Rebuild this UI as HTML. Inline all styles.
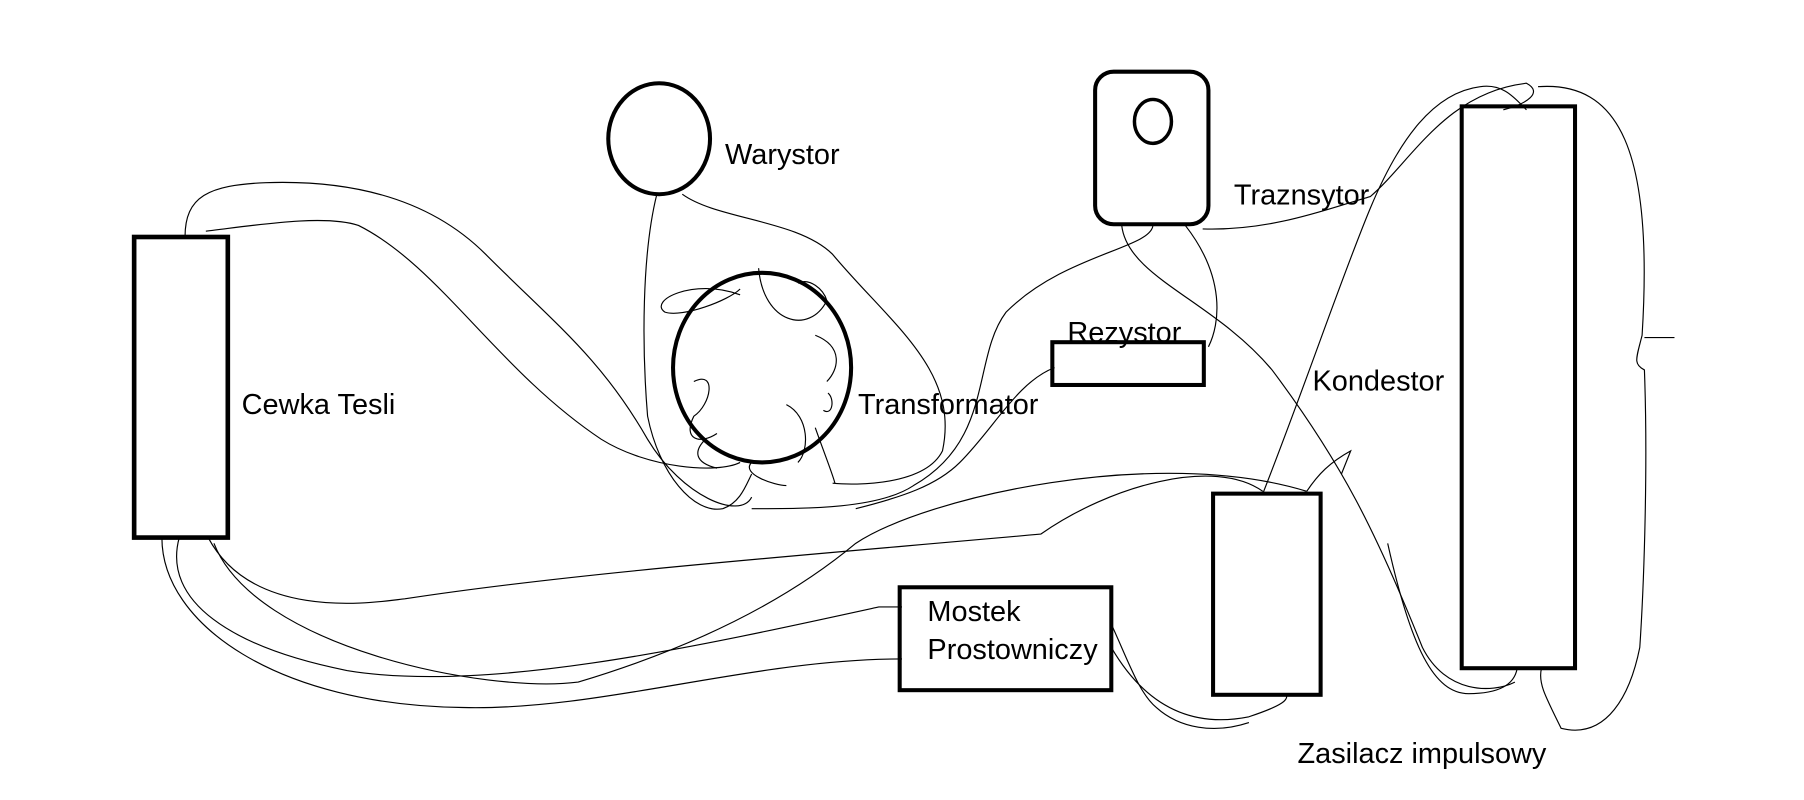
<!DOCTYPE html>
<html><head><meta charset="utf-8"><style>
html,body{margin:0;padding:0;background:#fff;}
svg{display:block}
text{font-family:"Liberation Sans","DejaVu Sans",sans-serif;font-size:25px;fill:#000}
</style></head><body>
<svg width="1804" height="800" viewBox="0 0 1560 692" preserveAspectRatio="none" xmlns="http://www.w3.org/2000/svg">
<rect width="1560" height="692" fill="#fff"/>
<g fill="none" stroke="#000" stroke-width="1">
<path d="M160,205 C160,170 180,160 230,158 C320,155 380,180 420,220 C480,280 520,310 560,380 C590,430 640,450 650,430"/>
<path d="M178,200 C220,195 280,185 310,195 C380,230 430,320 520,380 C560,405 620,410 640,400"/>
<path d="M568,168 C555,220 555,300 560,360 C570,410 600,445 625,440 C640,435 645,420 650,410"/>
<path d="M590,168 C620,190 690,190 720,220 C770,280 830,320 815,390 C800,420 740,420 720,418"/>
<path d="M656,232 C660,280 700,290 715,260 C712,250 700,240 690,245 M640,255 C600,240 560,260 575,270 C590,275 630,260 640,250 M705,290 C730,300 725,320 715,330 M600,330 C620,320 615,350 600,360 C590,380 605,385 620,375 M716,340 C722,345 720,360 712,355 M680,350 C700,360 700,390 690,400 M705,370 C712,390 720,410 722,418 M610,380 C600,390 600,400 620,405 M650,400 C640,410 670,420 680,420"/>
<path d="M997,195 C995,215 920,220 870,270 C840,310 860,380 790,420 C760,440 700,440 650,440"/>
<path d="M912,318 C880,330 860,370 830,400 C810,420 780,430 740,440"/>
<path d="M970,195 C975,240 1050,260 1100,320 C1160,400 1190,460 1230,560 C1250,600 1290,600 1310,590"/>
<path d="M1025,195 C1060,240 1055,280 1045,300"/>
<path d="M1040,198 C1100,200 1150,180 1185,170 C1220,140 1250,80 1320,72 C1335,80 1320,90 1300,95"/>
<path d="M1092,427 C1130,330 1160,240 1185,180 C1210,120 1240,80 1280,75 C1300,72 1310,85 1320,95"/>
<path d="M155,465 C140,520 200,560 300,580 C420,600 600,560 760,525 L780,525"/>
<path d="M140,465 C140,540 240,610 400,612 C520,615 650,570 780,570"/>
<path d="M180,465 C220,540 330,520 350,518 C500,495 700,480 900,462 C960,420 1050,395 1092,425"/>
<path d="M185,470 C220,560 420,600 500,590 C600,560 680,520 740,470 C800,430 1000,385 1130,425"/>
<path d="M1130,425 C1140,410 1150,400 1168,390 L1160,410"/>
<path d="M961,560 C990,610 1030,630 1080,620 C1110,610 1115,605 1112,600"/>
<path d="M961,540 C975,570 985,600 1000,612 C1020,630 1050,635 1080,625"/>
<path d="M1330,75 C1400,70 1430,130 1420,290 C1415,310 1412,315 1422,320 C1425,400 1422,500 1418,560 C1410,600 1390,640 1350,630 C1335,600 1330,590 1333,578"/>
<path d="M1422,292 L1448,292"/>
<path d="M1200,470 C1220,560 1240,600 1270,600 C1300,600 1310,590 1312,578"/>
</g>
<g fill="none" stroke="#000">
<rect x="116" y="205" width="81" height="260" stroke-width="4"/>
<ellipse cx="570" cy="120" rx="44" ry="48" stroke-width="3.5"/>
<ellipse cx="659" cy="318" rx="77" ry="82" stroke-width="3.5"/>
<rect x="947" y="62" width="98" height="132" rx="16" stroke-width="3.5"/>
<ellipse cx="997" cy="105" rx="16" ry="19" stroke-width="3"/>
<rect x="910" y="296" width="131" height="37" stroke-width="3.5"/>
<rect x="778" y="508" width="183" height="89" stroke-width="3.5"/>
<rect x="1049" y="427" width="93" height="174" stroke-width="3.5"/>
<rect x="1264" y="92" width="98" height="486" stroke-width="3.5"/>
</g>
<text x="627" y="142">Warystor</text>
<text x="1067" y="177">Traznsytor</text>
<text x="923" y="296">Rezystor</text>
<text x="1135" y="338">Kondestor</text>
<text x="742" y="358">Transformator</text>
<text x="209" y="358">Cewka Tesli</text>
<text x="802" y="537">Mostek</text>
<text x="802" y="570">Prostowniczy</text>
<text x="1122" y="660">Zasilacz impulsowy</text>
</svg>
</body></html>
